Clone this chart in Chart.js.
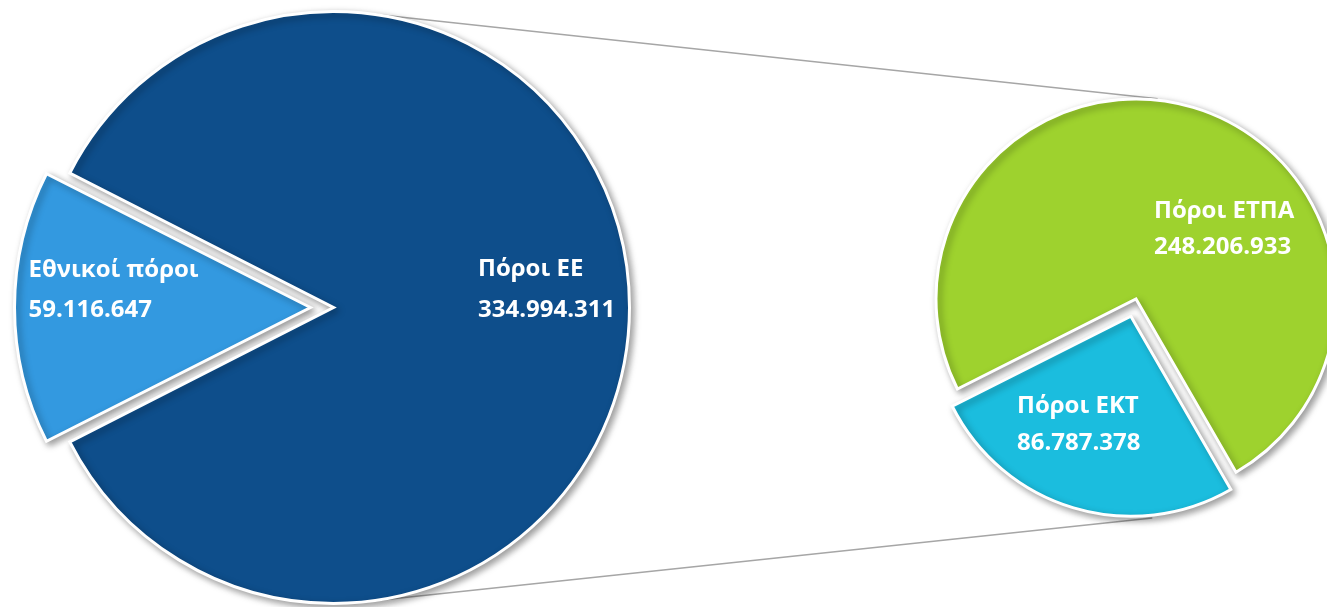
<!DOCTYPE html>
<html><head><meta charset="utf-8">
<script src="https://cdn.jsdelivr.net/npm/chart.js@4"></script>
<style>
html,body{margin:0;padding:0;background:#fff;overflow:hidden}
#wrap{position:relative;width:1327px;height:607px}
.layer{position:absolute;left:0;top:0;width:1327px;height:607px}
</style></head><body>
<div id="wrap">
<div class="layer"><canvas id="right"></canvas></div>
<div class="layer"><canvas id="left"></canvas></div>
</div>
<script>
// ---- data ----
const mainCategories = ['Εθνικοί πόροι', 'Πόροι ΕΕ'];
const mainValues = [59116647, 334994311];
const subCategories = ['Πόροι ΕΚΤ', 'Πόροι ΕΤΠΑ'];
const subValues = [86787378, 248206933];

// ---- style ----
const mainColors = ['#3399E0', '#0E4E8B'];
const subColors = ['#1BBDDE', '#9ED22E'];
const mainOffsets = [92, 0];
const subOffsets = [72, 0];
// label anchor offsets relative to pie centre: [dx, dy line1 baseline, dy line2 baseline]
const mainLabelPos = [[-305, -31, 9.5], [144.5, -31.5, 9]];
const subLabelPos = [[-119, 114, 151], [18, -81, -45]];

function fmt(v){ return String(v).replace(/\B(?=(\d{3})+(?!\d))/g, '.'); }

function tangent(c1, c2, side){
  const dx = c2.x - c1.x, dy = c2.y - c1.y, D = Math.hypot(dx, dy);
  const ux = dx / D, uy = dy / D;
  const a = (c1.r - c2.r) / D, b = Math.sqrt(1 - a * a);
  const px = side < 0 ? uy : -uy, py = side < 0 ? -ux : ux;
  const nx = a * ux + b * px, ny = a * uy + b * py;
  return [c1.x + c1.r * nx, c1.y + c1.r * ny, c2.x + c2.r * nx, c2.y + c2.r * ny];
}

let leftChart = null;

function makePlugin(categories, values, labelPos, offsets, connect){
  return {
    id: 'pieDeco',
    afterUpdate(chart){
      chart.getDatasetMeta(0).data.forEach((arc, i) => {
        const off = (offsets[i] || 0) / 4;
        const fix = 1 - Math.sin(Math.min(Math.PI, arc.circumference));
        arc.outerRadius -= off * fix;
      });
    },
    beforeDatasetsDraw(chart){
      const ctx = chart.ctx;
      if (connect) connect(chart);
      ctx.save();
      ctx.shadowColor = 'rgba(0,0,0,0.38)';
      ctx.shadowBlur = 7;
      ctx.shadowOffsetX = 3;
      ctx.shadowOffsetY = 3;
    },
    afterDatasetsDraw(chart){
      const ctx = chart.ctx;
      ctx.restore();
      const meta = chart.getDatasetMeta(0);
      ctx.save();
      ctx.fillStyle = '#ffffff';
      ctx.font = 'bold 24px "Open Sans", "Noto Sans", sans-serif';
      ctx.textAlign = 'left';
      ctx.textBaseline = 'alphabetic';
      meta.data.forEach((arc, i) => {
        const p = labelPos[i];
        ctx.fillText(categories[i], arc.x + p[0], arc.y + p[1]);
        ctx.fillText(fmt(values[i]), arc.x + p[0], arc.y + p[2]);
      });
      ctx.restore();
    }
  };
}

function connectorLines(chart){
  if (!leftChart) return;
  const ctx = chart.ctx;
  const L = leftChart.getDatasetMeta(0).data[1];
  const meta = chart.getDatasetMeta(0);
  const G = meta.data[1], C = meta.data[0];
  const cOff = (subOffsets[0] || 0) / 4;
  const mid = (C.startAngle + C.endAngle) / 2;
  const c1 = {x: L.x, y: L.y, r: L.outerRadius};
  const top2 = {x: G.x, y: G.y, r: G.outerRadius + 1.5};
  const bot2 = {x: C.x + Math.cos(mid) * cOff, y: C.y + Math.sin(mid) * cOff, r: C.outerRadius + 3};
  ctx.save();
  ctx.strokeStyle = '#a6a6a6';
  ctx.lineWidth = 1.5;
  [tangent(c1, top2, -1), tangent(c1, bot2, 1)].forEach(s => {
    ctx.beginPath(); ctx.moveTo(s[0], s[1]); ctx.lineTo(s[2], s[3]); ctx.stroke();
  });
  ctx.restore();
}

function pieConfig(categories, values, colors, offsets, radius, rotation, padding, plugin){
  return {
    type: 'pie',
    data: {
      labels: categories,
      datasets: [{
        data: values,
        backgroundColor: colors,
        borderColor: '#ffffff',
        borderWidth: 3,
        borderJoinStyle: 'miter',
        offset: offsets,
        hoverOffset: 0,
        radius: radius,
        rotation: rotation
      }]
    },
    options: {
      responsive: true,
      maintainAspectRatio: false,
      animation: false,
      events: [],
      radius: radius,
      rotation: rotation,
      layout: {padding: padding},
      plugins: {legend: {display: false}, tooltip: {enabled: false}}
    },
    plugins: [plugin]
  };
}

const mainSpan = 360 * mainValues[0] / (mainValues[0] + mainValues[1]);
leftChart = new Chart(document.getElementById('left'), pieConfig(
  mainCategories, mainValues, mainColors, mainOffsets, 296, 270 - mainSpan / 2,
  {left: 0, right: 660, top: 8, bottom: 0},
  makePlugin(mainCategories, mainValues, mainLabelPos, mainOffsets, null)
));

new Chart(document.getElementById('right'), pieConfig(
  subCategories, subValues, subColors, subOffsets, 200, 150,
  {left: 945, right: 0, top: 0, bottom: 9},
  makePlugin(subCategories, subValues, subLabelPos, subOffsets, connectorLines)
));
</script>
</body></html>
